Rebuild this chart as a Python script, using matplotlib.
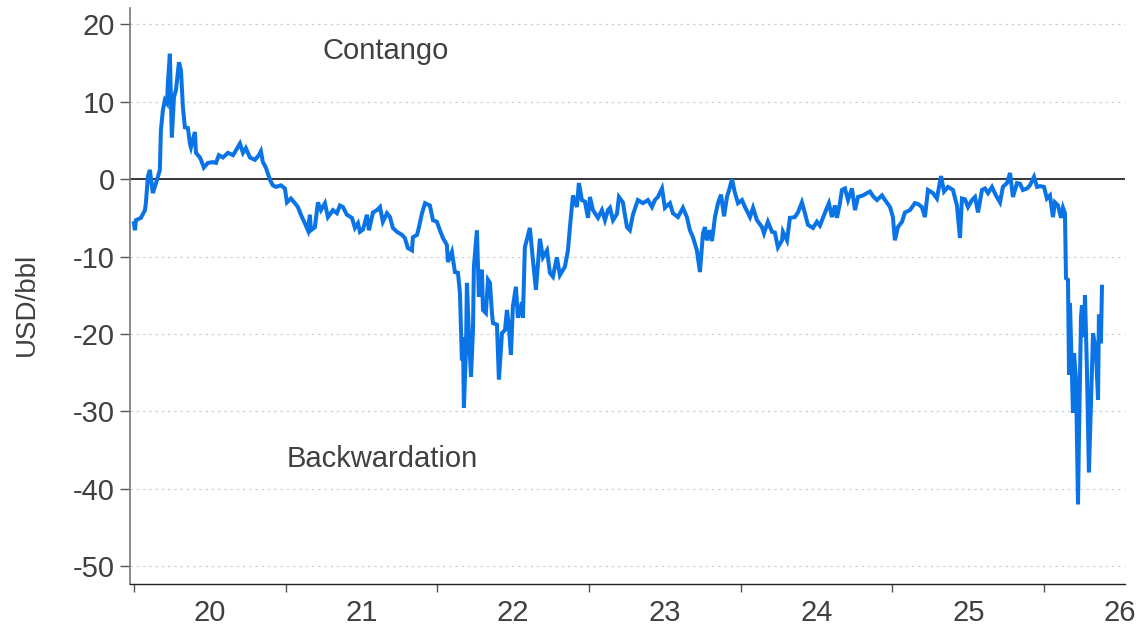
import numpy as np
import matplotlib
matplotlib.use("Agg")
import matplotlib.pyplot as plt
from matplotlib.ticker import FixedLocator, NullFormatter, FixedFormatter

# Time in years since 1 Jan 2020, spread value in USD/bbl
t_years = [
    0.000, 0.007, 0.013, 0.046, 0.073, 0.079, 0.092, 0.105, 0.125, 0.138,
    0.158, 0.171, 0.178, 0.191, 0.204, 0.218, 0.224, 0.237, 0.244, 0.250,
    0.264, 0.277, 0.297, 0.310, 0.323, 0.336, 0.356, 0.369, 0.376, 0.402,
    0.409, 0.435, 0.442, 0.461, 0.488, 0.521, 0.541, 0.560, 0.587, 0.620,
    0.653, 0.666, 0.699, 0.719, 0.738, 0.765, 0.798, 0.824, 0.837, 0.850,
    0.870, 0.897, 0.916, 0.936, 0.969, 0.995, 1.009, 1.035, 1.061, 1.081,
    1.101, 1.127, 1.147, 1.160, 1.167, 1.193, 1.213, 1.233, 1.259, 1.279,
    1.312, 1.338, 1.358, 1.378, 1.404, 1.437, 1.457, 1.477, 1.490, 1.510,
    1.536, 1.549, 1.576, 1.602, 1.622, 1.641, 1.668, 1.688, 1.707, 1.734,
    1.767, 1.786, 1.806, 1.833, 1.839, 1.866, 1.879, 1.899, 1.919, 1.951,
    1.971, 1.997, 2.017, 2.037, 2.063, 2.070, 2.096, 2.116, 2.136, 2.149,
    2.162, 2.169, 2.175, 2.189, 2.195, 2.208, 2.222, 2.235, 2.241, 2.261,
    2.274, 2.294, 2.301, 2.320, 2.334, 2.347, 2.360, 2.367, 2.393, 2.406,
    2.426, 2.446, 2.459, 2.472, 2.485, 2.498, 2.518, 2.531, 2.558, 2.564,
    2.577, 2.610, 2.630, 2.650, 2.676, 2.696, 2.723, 2.742, 2.762, 2.788,
    2.808, 2.841, 2.861, 2.874, 2.894, 2.920, 2.933, 2.953, 2.973, 2.993,
    3.006, 3.026, 3.059, 3.085, 3.105, 3.125, 3.138, 3.158, 3.184, 3.197,
    3.223, 3.250, 3.269, 3.289, 3.322, 3.355, 3.388, 3.415, 3.434, 3.454,
    3.481, 3.500, 3.533, 3.553, 3.586, 3.619, 3.645, 3.665, 3.685, 3.711,
    3.731, 3.751, 3.764, 3.777, 3.797, 3.810, 3.817, 3.830, 3.850, 3.870,
    3.890, 3.909, 3.929, 3.942, 3.962, 3.982, 4.008, 4.028, 4.061, 4.081,
    4.107, 4.140, 4.153, 4.179, 4.206, 4.225, 4.245, 4.272, 4.278, 4.305,
    4.324, 4.357, 4.377, 4.403, 4.423, 4.443, 4.476, 4.502, 4.522, 4.542,
    4.568, 4.581, 4.601, 4.621, 4.634, 4.654, 4.667, 4.687, 4.707, 4.733,
    4.753, 4.773, 4.806, 4.832, 4.852, 4.872, 4.898, 4.931, 4.951, 4.984,
    5.003, 5.016, 5.036, 5.063, 5.082, 5.115, 5.148, 5.168, 5.194, 5.214,
    5.234, 5.267, 5.293, 5.320, 5.340, 5.366, 5.399, 5.425, 5.445, 5.458,
    5.478, 5.498, 5.524, 5.544, 5.564, 5.590, 5.610, 5.630, 5.656, 5.682,
    5.709, 5.728, 5.755, 5.775, 5.794, 5.821, 5.841, 5.860, 5.887, 5.906,
    5.933, 5.953, 5.972, 5.999, 6.018, 6.038, 6.058, 6.071, 6.091, 6.111,
    6.124, 6.137, 6.144, 6.157, 6.164, 6.170, 6.183, 6.190, 6.197, 6.210,
    6.223, 6.229, 6.243, 6.249, 6.262, 6.269, 6.282, 6.295, 6.315, 6.322,
    6.341, 6.355, 6.361, 6.374, 6.381,
]
spread = [
    -5.7, -6.6, -5.3, -5.0, -4.0, -3.1, 0.3, 1.2, -1.8, -1.0,
    0.3, 1.2, 6.3, 8.9, 10.2, 9.8, 12.4, 16.2, 10.6, 5.4,
    10.6, 11.5, 15.1, 14.1, 9.3, 6.7, 6.6, 4.6, 4.1, 6.1,
    3.4, 2.8, 2.5, 1.5, 2.1, 2.2, 2.1, 3.1, 2.8, 3.4,
    3.1, 3.5, 4.6, 3.4, 4.0, 2.8, 2.5, 3.1, 3.6, 2.2,
    1.5, -0.1, -0.8, -1.0, -0.8, -1.2, -3.0, -2.5, -3.1, -3.6,
    -4.6, -5.7, -6.6, -4.6, -6.6, -6.2, -3.0, -4.0, -3.1, -4.9,
    -4.0, -4.4, -3.4, -3.6, -4.6, -5.0, -6.3, -5.7, -6.8, -6.5,
    -4.6, -6.6, -4.3, -4.0, -3.6, -5.5, -4.4, -4.9, -6.3, -6.8,
    -7.2, -7.6, -8.9, -9.2, -7.5, -7.2, -6.2, -4.4, -3.1, -3.4,
    -5.3, -5.5, -6.6, -7.6, -8.5, -10.7, -9.4, -12.0, -12.1, -14.7,
    -23.4, -20.4, -29.5, -22.1, -13.4, -19.9, -25.5, -19.5, -11.3, -6.6,
    -15.2, -11.7, -16.9, -17.3, -13.0, -13.4, -17.3, -18.6, -18.8, -25.9,
    -19.9, -19.5, -16.9, -19.1, -22.7, -16.5, -13.9, -17.9, -15.9, -17.9,
    -8.8, -6.3, -10.4, -14.3, -7.7, -10.1, -9.2, -12.1, -12.6, -10.1,
    -12.4, -11.3, -9.2, -6.2, -2.1, -3.6, -0.5, -2.7, -2.9, -5.0,
    -2.3, -4.0, -5.0, -4.0, -5.3, -4.0, -3.7, -5.3, -4.5, -2.3,
    -3.0, -6.2, -6.6, -4.6, -2.7, -3.1, -2.7, -3.6, -2.7, -2.3,
    -1.2, -3.7, -3.1, -4.4, -4.9, -3.7, -4.9, -6.6, -7.5, -9.2,
    -12.0, -7.0, -6.2, -7.9, -6.6, -8.0, -7.0, -4.9, -3.1, -2.0,
    -4.8, -2.3, -1.0, 0.0, -1.8, -3.1, -2.7, -3.6, -4.9, -3.7,
    -5.3, -6.2, -7.0, -5.5, -6.8, -6.9, -8.8, -7.9, -6.8, -7.9,
    -5.0, -4.9, -4.3, -3.0, -4.4, -5.9, -6.3, -5.5, -6.0, -5.0,
    -3.7, -3.1, -4.9, -3.4, -5.0, -3.1, -1.4, -1.2, -2.7, -1.2,
    -4.0, -2.3, -2.1, -1.8, -1.6, -2.2, -2.7, -2.1, -2.7, -3.6,
    -4.9, -7.9, -6.2, -5.5, -4.3, -4.0, -3.1, -3.2, -3.6, -4.9,
    -1.4, -1.8, -2.5, 0.4, -1.6, -1.0, -1.4, -3.4, -7.6, -2.5,
    -2.6, -3.6, -2.7, -2.3, -4.3, -1.4, -1.2, -1.8, -1.0, -2.1,
    -3.0, -1.0, -0.5, 0.8, -2.3, -0.5, -0.6, -1.4, -1.2, -0.8,
    0.3, -1.0, -0.9, -1.0, -2.5, -2.1, -4.9, -3.0, -3.4, -5.0,
    -3.7, -4.4, -12.8, -13.0, -25.3, -16.0, -25.5, -30.2, -22.5, -25.9,
    -42.0, -33.7, -17.8, -16.3, -20.4, -15.0, -24.6, -37.9, -24.6, -19.9,
    -22.1, -28.5, -17.5, -21.2, -13.9,
]

year_starts = [2020, 2021, 2022, 2023, 2024, 2025, 2026]
year_labels = ["20", "21", "22", "23", "24", "25", "26"]
y_ticks = [20, 10, 0, -10, -20, -30, -40, -50]

font = "Liberation Sans"
text_color = "#404040"
line_color = "#0a74e6"

fig = plt.figure(figsize=(11.38, 6.28), dpi=100)
ax = fig.add_axes([0.1142, 0.0701, 0.8744, 0.917])

x = 2020 + np.array(t_years)
ax.plot(x, spread, color=line_color, lw=2.9, solid_joinstyle="miter", zorder=3)
ax.axhline(0, color="black", lw=1.1, zorder=2)

ax.set_xlim(2019.974, 2026.533)
ax.set_ylim(-52.3, 22.1)

ax.set_yticks(y_ticks)
ax.set_yticklabels([str(v) for v in y_ticks])
for v in y_ticks:
    if v != 0:
        ax.axhline(v, color="#c5d2da", lw=0.9, ls=(0, (2, 3)), zorder=1)

ax.xaxis.set_major_locator(FixedLocator(year_starts))
ax.xaxis.set_major_formatter(NullFormatter())
ax.xaxis.set_minor_locator(FixedLocator([y + 0.5 for y in year_starts]))
ax.xaxis.set_minor_formatter(FixedFormatter(year_labels))
ax.tick_params(axis="x", which="major", length=6, width=1, color="#555555")
ax.tick_params(axis="x", which="minor", length=0, pad=11)
ax.tick_params(axis="y", length=7, width=1, color="#555555", pad=4)
for lab in ax.get_xticklabels(minor=True) + ax.get_yticklabels():
    lab.set_fontfamily(font)
    lab.set_fontsize(21)
    lab.set_color(text_color)

for side in ["top", "right"]:
    ax.spines[side].set_visible(False)
ax.spines["left"].set_color("#777777")
ax.spines["left"].set_linewidth(1.2)
ax.spines["bottom"].set_color("#222222")
ax.spines["bottom"].set_linewidth(1.0)

ax.set_ylabel("USD/bbl", fontfamily=font, fontsize=20, color=text_color)
ax.yaxis.set_label_coords(-0.091, 0.485)

ax.text(2021.66, 16.6, "Contango", fontfamily=font, fontsize=21,
        color=text_color, ha="center", va="center")
ax.text(2021.64, -36.1, "Backwardation", fontfamily=font, fontsize=21,
        color=text_color, ha="center", va="center")

fig.savefig("out.png", dpi=100)
